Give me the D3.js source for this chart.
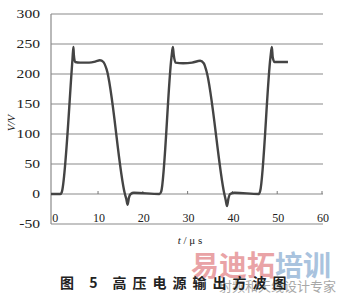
<!DOCTYPE html>
<html>
<head>
<meta charset="utf-8">
<script src="https://cdn.jsdelivr.net/npm/d3@7"></script>
<style>
  body { margin: 0; background: #fff; }
</style>
</head>
<body>
<div id="chart"></div>
<script>
// waveform samples (time in us, voltage in V)
var timeUs = [-0.5, 1.6, 1.9, 4.3, 4.5, 4.6, 4.9, 6, 8, 9.5, 10.4, 11.2, 11.9, 16.0, 16.3, 16.6, 16.9, 17.3, 18,
  23.7, 24.1, 26.4, 26.7, 26.9, 27.3, 29, 31, 32.8, 33.6, 34.2, 38.2, 38.5, 38.8, 39.1, 39.5, 40.5,
  45.9, 46.2, 48.5, 48.8, 49.0, 49.4, 52.4];
var voltage = [0, 0, 3, 225, 245, 232, 220, 219, 219, 221, 223, 220, 208, 0, -8, -18, -6, 0, 2,
  0, 4, 228, 245, 232, 219, 218, 219, 222, 218, 205, 0, -10, -20, -8, 0, 2,
  0, 5, 228, 245, 228, 220, 220];

var yTicks = [-50, 0, 50, 100, 150, 200, 250, 300];
var xTicks = [0, 10, 20, 30, 40, 50, 60];

var serif = "'Liberation Serif', 'Times New Roman', 'DejaVu Serif', serif";
var cjk = "'Noto Sans CJK SC', sans-serif";
var width = 340, height = 295;

var svg = d3.select("#chart")
  .append("svg")
  .attr("width", width)
  .attr("height", height);

var x = d3.scaleLinear().domain([-0.5, 60]).range([51, 322]);
var y = d3.scaleLinear().domain([-50, 300]).range([224, 14]);

// horizontal grid lines
svg.selectAll(".grid")
  .data(yTicks)
  .enter()
  .append("line")
  .attr("x1", 51)
  .attr("x2", 323)
  .attr("y1", function (d) { return y(d); })
  .attr("y2", function (d) { return y(d); })
  .style("stroke", "#8a8a8a")
  .style("stroke-width", 1.2);

// left axis line
svg.append("line")
  .attr("x1", 51).attr("x2", 51)
  .attr("y1", y(300)).attr("y2", y(-50))
  .style("stroke", "#8a8a8a")
  .style("stroke-width", 1.2);

// small ticks on the zero line
svg.selectAll(".tick0")
  .data(xTicks.slice(1))
  .enter()
  .append("line")
  .attr("x1", function (d) { return x(d); })
  .attr("x2", function (d) { return x(d); })
  .attr("y1", y(0))
  .attr("y2", y(0) - 3)
  .style("stroke", "#777")
  .style("stroke-width", 1);

// y labels (a bit stretched like the scan)
svg.selectAll(".ylab")
  .data(yTicks)
  .enter()
  .append("text")
  .attr("transform", function (d) { return "translate(40," + (y(d) + 4) + ") scale(1.3,1)"; })
  .attr("text-anchor", "end")
  .style("font-family", serif)
  .style("font-size", "12px")
  .style("fill", "#222")
  .text(function (d) { return d; });

// x labels sit just above the -50 line
svg.selectAll(".xlab")
  .data(xTicks)
  .enter()
  .append("text")
  .attr("x", function (d) { return d === 0 ? x(d) + 2 : x(d) + 1; })
  .attr("y", 222)
  .attr("text-anchor", "middle")
  .style("font-family", serif)
  .style("font-size", "12px")
  .style("fill", "#222")
  .text(function (d) { return d; });

// waveform
var line = d3.line()
  .x(function (d, i) { return x(timeUs[i]); })
  .y(function (d) { return y(d); })
  .curve(d3.curveMonotoneX);

svg.append("path")
  .datum(voltage)
  .attr("d", line)
  .style("fill", "none")
  .style("stroke", "#444")
  .style("stroke-width", 2.4)
  .style("stroke-linejoin", "round");

// axis titles
svg.append("text")
  .attr("transform", "translate(15,123) rotate(-90)")
  .attr("text-anchor", "middle")
  .style("font-family", serif)
  .style("font-size", "11px")
  .style("font-style", "italic")
  .style("fill", "#222")
  .text("V/V");

svg.append("text")
  .attr("x", 190)
  .attr("y", 244)
  .attr("text-anchor", "middle")
  .style("font-family", serif)
  .style("font-size", "11px")
  .style("fill", "#222")
  .html('<tspan font-style="italic">t</tspan> / μ s');

// watermark
svg.append("text")
  .attr("x", 191)
  .attr("y", 276)
  .style("font-family", cjk)
  .style("font-size", "28px")
  .style("font-weight", "bold")
  .style("fill", "#e9a3a6")
  .text("易迪拓");
svg.append("text")
  .attr("x", 275)
  .attr("y", 276)
  .style("font-family", cjk)
  .style("font-size", "28px")
  .style("font-weight", "bold")
  .style("fill", "#a9c3de")
  .text("培训");
svg.append("text")
  .attr("x", 336)
  .attr("y", 291)
  .attr("text-anchor", "end")
  .style("font-family", cjk)
  .style("font-size", "13px")
  .style("fill", "#a8a8a8")
  .text("射频和天线设计专家");

// caption
svg.append("text")
  .attr("x", 60)
  .attr("y", 288)
  .style("font-family", cjk)
  .style("font-size", "14px")
  .style("font-weight", "bold")
  .style("letter-spacing", "6px")
  .style("fill", "#222")
  .text("图 5  高压电源输出方波图");
</script>
</body>
</html>
